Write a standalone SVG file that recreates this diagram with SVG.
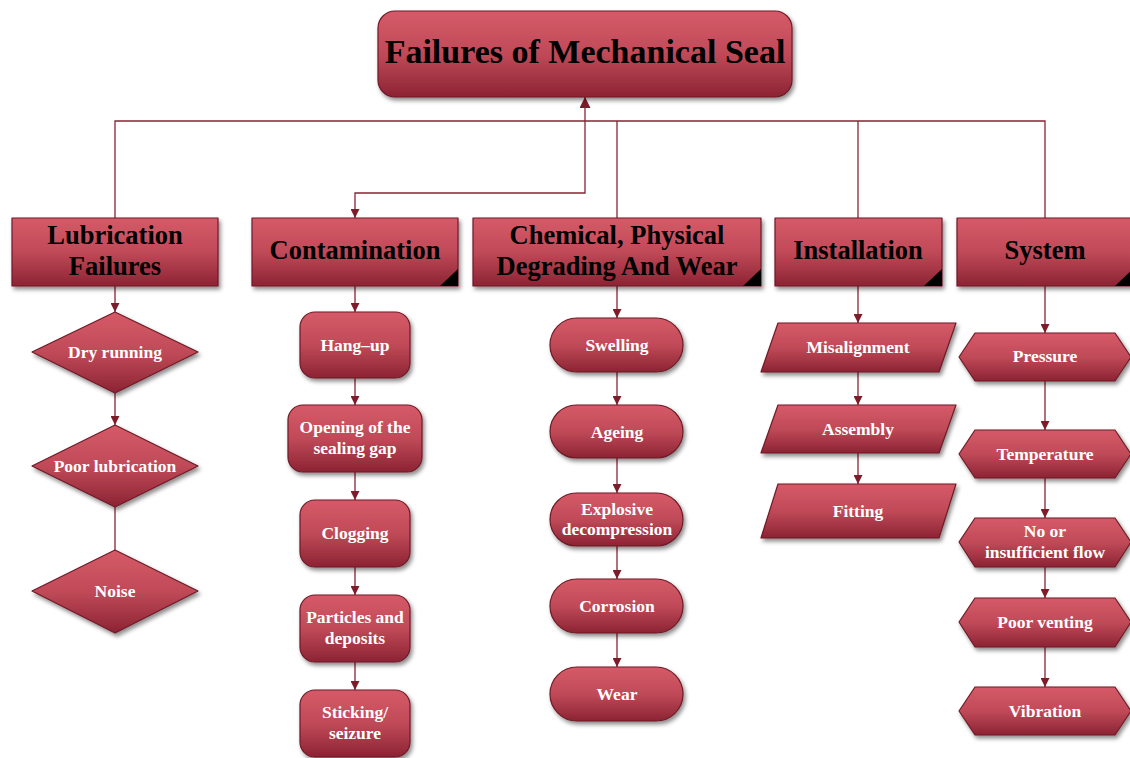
<svg xmlns="http://www.w3.org/2000/svg" width="1130" height="758" viewBox="0 0 1130 758">
  <defs>
    <linearGradient id="fillRed" x1="0" y1="0" x2="0" y2="1">
      <stop offset="0" stop-color="#d65a68"/>
      <stop offset="0.5" stop-color="#c04a58"/>
      <stop offset="1" stop-color="#8c2333"/>
    </linearGradient>
    <filter id="shadow" x="-10%" y="-10%" width="125%" height="135%">
      <feDropShadow dx="2" dy="3" stdDeviation="2" flood-color="#000" flood-opacity="0.45"/>
    </filter>
    <marker id="arrow" viewBox="0 0 10 10" refX="10" refY="5" markerWidth="9" markerHeight="9" markerUnits="userSpaceOnUse" orient="auto">
      <path d="M0,0 L10,5 L0,10 Z" fill="#7d1d2b"/>
    </marker>
    <marker id="arrowBig" viewBox="0 0 10 10" refX="10" refY="5" markerWidth="11" markerHeight="11" markerUnits="userSpaceOnUse" orient="auto">
      <path d="M0,0 L10,5 L0,10 Z" fill="#7d1d2b"/>
    </marker>
  </defs>
  <style>
    .shape { fill: url(#fillRed); stroke: #6e1a26; stroke-width: 1.2; stroke-linejoin: round; filter: url(#shadow); }
    .corner { fill: #000; }
    .title { font-family: "Liberation Serif", "Times New Roman", serif; font-weight: bold; font-size: 34px; fill: #000; text-anchor: middle; }
    .head { font-family: "Liberation Serif", "Times New Roman", serif; font-weight: bold; font-size: 26.5px; fill: #000; text-anchor: middle; }
    .item { font-family: "Liberation Serif", "Times New Roman", serif; font-weight: bold; font-size: 17.5px; fill: #fff; text-anchor: middle; }
    .link { fill: none; stroke: #8b2233; stroke-width: 1.3; }
  </style>
  <rect width="1130" height="758" fill="#fff"/>

  <!-- connectors -->
  <g id="connectors">
    <path class="link" d="M115,218 V121 H1045 V218"/>
    <path class="link" d="M585,121 V97" marker-end="url(#arrowBig)"/>
    <path class="link" d="M585,121 V193 H355 V218" marker-end="url(#arrow)"/>
    <path class="link" d="M617,121 V218"/>
    <path class="link" d="M858,121 V218"/>

    <path class="link" d="M115,286 V312" marker-end="url(#arrow)"/>
    <path class="link" d="M115,393 V425" marker-end="url(#arrow)"/>
    <path class="link" d="M115,507 V550"/>

    <path class="link" d="M355,286 V312" marker-end="url(#arrow)"/>
    <path class="link" d="M355,378 V405" marker-end="url(#arrow)"/>
    <path class="link" d="M355,472 V500" marker-end="url(#arrow)"/>
    <path class="link" d="M355,567 V595" marker-end="url(#arrow)"/>
    <path class="link" d="M355,662 V690" marker-end="url(#arrow)"/>

    <path class="link" d="M617,286 V318" marker-end="url(#arrow)"/>
    <path class="link" d="M617,372 V405" marker-end="url(#arrow)"/>
    <path class="link" d="M617,458 V493" marker-end="url(#arrow)"/>
    <path class="link" d="M617,546 V579" marker-end="url(#arrow)"/>
    <path class="link" d="M617,633 V667" marker-end="url(#arrow)"/>

    <path class="link" d="M858,286 V323" marker-end="url(#arrow)"/>
    <path class="link" d="M858,372 V405" marker-end="url(#arrow)"/>
    <path class="link" d="M858,453 V484" marker-end="url(#arrow)"/>

    <path class="link" d="M1045,286 V333" marker-end="url(#arrow)"/>
    <path class="link" d="M1045,381 V430" marker-end="url(#arrow)"/>
    <path class="link" d="M1045,478 V518" marker-end="url(#arrow)"/>
    <path class="link" d="M1045,567 V598" marker-end="url(#arrow)"/>
    <path class="link" d="M1045,647 V687" marker-end="url(#arrow)"/>
  </g>

  <!-- root -->
  <g id="root">
    <rect class="shape" x="378" y="11" width="414" height="86" rx="17"/>
    <text class="title" x="585" y="63">Failures of Mechanical Seal</text>
  </g>

  <!-- category headers -->
  <g id="lubrication">
    <rect class="shape" x="12" y="218" width="206" height="68"/>
    <text class="head" x="115" y="244">Lubrication</text>
    <text class="head" x="115" y="275">Failures</text>
  </g>
  <g id="contamination">
    <rect class="shape" x="252" y="218" width="206" height="68"/>
    <path class="corner" d="M440,286 L458,286 L458,269 Z"/>
    <text class="head" x="355" y="259">Contamination</text>
  </g>
  <g id="chemical">
    <rect class="shape" x="473" y="218" width="288" height="68"/>
    <path class="corner" d="M743,286 L761,286 L761,269 Z"/>
    <text class="head" x="617" y="244">Chemical, Physical</text>
    <text class="head" x="617" y="275">Degrading And Wear</text>
  </g>
  <g id="installation">
    <rect class="shape" x="775" y="218" width="167" height="68"/>
    <path class="corner" d="M924,286 L942,286 L942,269 Z"/>
    <text class="head" x="858" y="259">Installation</text>
  </g>
  <g id="system">
    <rect class="shape" x="957" y="218" width="176" height="68"/>
    <path class="corner" d="M1115,286 L1133,286 L1133,269 Z"/>
    <text class="head" x="1045" y="259">System</text>
  </g>

  <!-- lubrication causes -->
  <g id="dry-running">
    <polygon class="shape" points="115,312 198,352 115,393 32,352"/>
    <text class="item" x="115" y="358">Dry running</text>
  </g>
  <g id="poor-lubrication">
    <polygon class="shape" points="115,425 198,466 115,507 32,466"/>
    <text class="item" x="115" y="472">Poor lubrication</text>
  </g>
  <g id="noise">
    <polygon class="shape" points="115,550 198,591 115,633 32,591"/>
    <text class="item" x="115" y="597">Noise</text>
  </g>

  <!-- contamination causes -->
  <g id="hang-up">
    <rect class="shape" x="300" y="312" width="110" height="66" rx="15"/>
    <text class="item" x="355" y="351">Hang–up</text>
  </g>
  <g id="opening">
    <rect class="shape" x="288" y="405" width="134" height="67" rx="15"/>
    <text class="item" x="355" y="433">Opening of the</text>
    <text class="item" x="355" y="454">sealing gap</text>
  </g>
  <g id="clogging">
    <rect class="shape" x="300" y="500" width="110" height="67" rx="15"/>
    <text class="item" x="355" y="539">Clogging</text>
  </g>
  <g id="particles">
    <rect class="shape" x="300" y="595" width="110" height="67" rx="15"/>
    <text class="item" x="355" y="623">Particles and</text>
    <text class="item" x="355" y="644">deposits</text>
  </g>
  <g id="sticking">
    <rect class="shape" x="300" y="690" width="110" height="67" rx="15"/>
    <text class="item" x="355" y="718">Sticking/</text>
    <text class="item" x="355" y="739">seizure</text>
  </g>

  <!-- chemical / physical causes -->
  <g id="swelling">
    <rect class="shape" x="550" y="318" width="133" height="54" rx="27"/>
    <text class="item" x="617" y="351">Swelling</text>
  </g>
  <g id="ageing">
    <rect class="shape" x="550" y="405" width="133" height="53" rx="26.5"/>
    <text class="item" x="617" y="438">Ageing</text>
  </g>
  <g id="explosive">
    <rect class="shape" x="550" y="493" width="133" height="53" rx="26.5"/>
    <text class="item" x="617" y="515">Explosive</text>
    <text class="item" x="617" y="535">decompression</text>
  </g>
  <g id="corrosion">
    <rect class="shape" x="550" y="579" width="133" height="54" rx="27"/>
    <text class="item" x="617" y="612">Corrosion</text>
  </g>
  <g id="wear">
    <rect class="shape" x="550" y="667" width="133" height="54" rx="27"/>
    <text class="item" x="617" y="700">Wear</text>
  </g>

  <!-- installation causes -->
  <g id="misalignment">
    <polygon class="shape" points="778,323 956,323 939,372 761,372"/>
    <text class="item" x="858" y="353">Misalignment</text>
  </g>
  <g id="assembly">
    <polygon class="shape" points="778,405 956,405 939,453 761,453"/>
    <text class="item" x="858" y="435">Assembly</text>
  </g>
  <g id="fitting">
    <polygon class="shape" points="778,484 956,484 939,538 761,538"/>
    <text class="item" x="858" y="517">Fitting</text>
  </g>

  <!-- system causes -->
  <g id="pressure">
    <polygon class="shape" points="959,357 975,333 1115,333 1131,357 1115,381 975,381"/>
    <text class="item" x="1045" y="362">Pressure</text>
  </g>
  <g id="temperature">
    <polygon class="shape" points="959,454 975,430 1115,430 1131,454 1115,478 975,478"/>
    <text class="item" x="1045" y="460">Temperature</text>
  </g>
  <g id="flow">
    <polygon class="shape" points="959,542 975,518 1115,518 1131,542 1115,567 975,567"/>
    <text class="item" x="1045" y="537">No or</text>
    <text class="item" x="1045" y="558">insufficient flow</text>
  </g>
  <g id="venting">
    <polygon class="shape" points="959,622 975,598 1115,598 1131,622 1115,647 975,647"/>
    <text class="item" x="1045" y="628">Poor venting</text>
  </g>
  <g id="vibration">
    <polygon class="shape" points="959,711 975,687 1115,687 1131,711 1115,735 975,735"/>
    <text class="item" x="1045" y="717">Vibration</text>
  </g>
</svg>
